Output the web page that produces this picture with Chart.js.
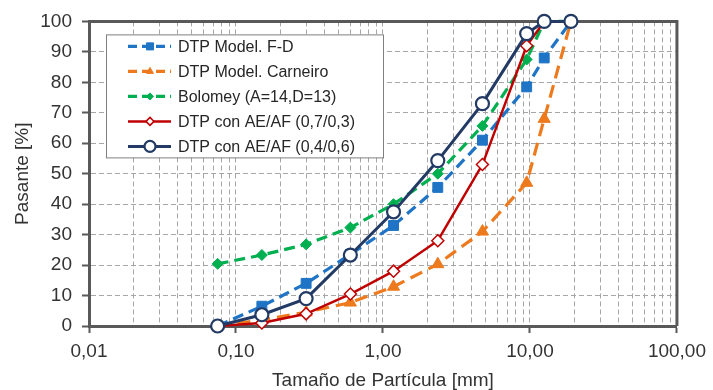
<!DOCTYPE html>
<html>
<head>
<meta charset="utf-8">
<script src="https://cdn.jsdelivr.net/npm/chart.js@4.4.1/dist/chart.umd.min.js"></script>
<style>
  html, body { margin: 0; padding: 0; background: #fff; }
</style>
</head>
<body>
<canvas id="chart" width="713" height="390"></canvas>
<script>
// sieve sizes (mm) and % passing for each curve
const sizes = [0.075, 0.15, 0.3, 0.6, 1.18, 2.36, 4.75, 9.5, 12.5, 19];
const fdValues = [0, 6.5, 14, 23.5, 33, 45.5, 61, 78.5, 88, 100];
const carneiroValues = [0, 2, 4.5, 7.7, 12.9, 20.3, 31, 47, 68, 100];
const bolomeyValues = [20.4, 23.3, 26.8, 32.3, 40, 50, 65.7, 87.5, 100, 100];
const ae07Values = [0, 1, 4, 10.5, 18, 28, 53, 92, 100, 100];
const ae04Values = [0, 3.7, 9, 23.3, 37.5, 54.3, 73, 96, 100, 100];

const seriesNames = [
  'DTP Model. F-D',
  'DTP Model. Carneiro',
  'Bolomey (A=14,D=13)',
  'DTP con AE/AF (0,7/0,3)',
  'DTP con AE/AF (0,4/0,6)'
];

const xTickValues = [0.01, 0.1, 1, 10, 100];
const xTickLabels = ['0,01', '0,10', '1,00', '10,00', '100,00'];

// minor grid positions for the log axis (1..9 per decade)
const gridValues = [];
for (let k = 0; k < xTickValues.length - 1; k++) {
  for (let m = 1; m <= 9; m++) gridValues.push(Number((m * xTickValues[k]).toPrecision(6)));
}
gridValues.push(xTickValues[xTickValues.length - 1]);

const isDecade = v => xTickValues.findIndex(t => Math.abs(t - v) < t * 1e-6);

const toPoints = vals => sizes.map((s, i) => ({ x: s, y: vals[i] }));

Chart.defaults.font.family = '"Liberation Sans", Arial, sans-serif';
Chart.defaults.color = '#333333';

const frame = {
  id: 'frame',
  beforeDatasetsDraw(chart) {
    const { ctx, chartArea: a } = chart;
    ctx.save();
    ctx.strokeStyle = '#595959';
    ctx.lineWidth = 3;
    ctx.beginPath();
    ctx.moveTo(a.left, a.top);
    ctx.lineTo(a.right, a.top);
    ctx.lineTo(a.right, a.bottom);
    ctx.stroke();
    ctx.restore();
  }
};

const legendBox = {
  id: 'legendBox',
  afterDraw(chart) {
    const { ctx, chartArea: a } = chart;
    const left = a.left + 17, top = a.top + 13;
    ctx.save();
    ctx.fillStyle = '#fff';
    ctx.fillRect(left, top, 277, 123);
    ctx.strokeStyle = '#7f7f7f';
    ctx.lineWidth = 1;
    ctx.strokeRect(left + 0.5, top + 0.5, 277, 123);
    chart.data.datasets.forEach((ds, i) => {
      const y = top + 12 + i * 25;
      ctx.strokeStyle = ds.borderColor;
      ctx.lineWidth = ds.borderWidth;
      ctx.setLineDash(ds.borderDash ? [9, 5] : []);
      ctx.beginPath();
      ctx.moveTo(left + 22, y);
      ctx.lineTo(left + 65, y);
      ctx.stroke();
      ctx.setLineDash([]);
      ctx.fillStyle = ds.pointBackgroundColor;
      ctx.strokeStyle = ds.pointBorderColor;
      ctx.lineWidth = ds.pointBorderWidth;
      Chart.helpers.drawPoint(ctx, {
        pointStyle: ds.pointStyle, rotation: 0,
        radius: ds.legendRadius, borderWidth: ds.pointBorderWidth
      }, left + 44, y);
      ctx.fillStyle = '#262626';
      ctx.font = '16px "Liberation Sans", Arial, sans-serif';
      ctx.textBaseline = 'middle';
      ctx.fillText(seriesNames[i], left + 72, y + 1);
    });
    ctx.restore();
  }
};

new Chart(document.getElementById('chart'), {
  type: 'line',
  data: {
    datasets: [
      {
        label: seriesNames[0], data: toPoints(fdValues), order: 3,
        borderColor: '#1f74c5', borderWidth: 3.2, borderDash: [11, 6],
        pointStyle: 'rect', pointRadius: 7, legendRadius: 5,
        pointBackgroundColor: '#1f74c5', pointBorderColor: '#1f74c5', pointBorderWidth: 1
      },
      {
        label: seriesNames[1], data: toPoints(carneiroValues), order: 4,
        borderColor: '#ee7a1e', borderWidth: 3.2, borderDash: [13, 7],
        pointStyle: 'triangle', pointRadius: 7, legendRadius: 4,
        pointBackgroundColor: '#ee7a1e', pointBorderColor: '#ee7a1e', pointBorderWidth: 1
      },
      {
        label: seriesNames[2], data: toPoints(bolomeyValues), order: 2,
        borderColor: '#00b050', borderWidth: 3.2, borderDash: [11, 6],
        pointStyle: 'rectRot', pointRadius: 5.5, legendRadius: 3.5,
        pointBackgroundColor: '#00b050', pointBorderColor: '#00b050', pointBorderWidth: 1
      },
      {
        label: seriesNames[3], data: toPoints(ae07Values), order: 1,
        borderColor: '#c00000', borderWidth: 2.5,
        pointStyle: 'rectRot', pointRadius: 6, legendRadius: 4,
        pointBackgroundColor: '#ffffff', pointBorderColor: '#c00000', pointBorderWidth: 1.5
      },
      {
        label: seriesNames[4], data: toPoints(ae04Values), order: 0,
        borderColor: '#223a64', borderWidth: 3,
        pointStyle: 'circle', pointRadius: 6.5, legendRadius: 5.5,
        pointBackgroundColor: '#ffffff', pointBorderColor: '#223a64', pointBorderWidth: 2.2
      }
    ]
  },
  options: {
    responsive: false,
    animation: false,
    clip: false,
    layout: { padding: { top: 20, right: 34, left: 0, bottom: 0 } },
    elements: { line: { tension: 0 } },
    plugins: { legend: { display: false }, tooltip: { enabled: false } },
    scales: {
      x: {
        type: 'logarithmic',
        min: 0.01,
        max: 100,
        afterBuildTicks: s => { s.ticks = gridValues.map(v => ({ value: v })); },
        afterFit: s => { s.height = 64; },
        ticks: {
          autoSkip: false, maxRotation: 0, padding: 7,
          font: { size: 19 },
          callback: v => { const k = isDecade(v); return k >= 0 ? xTickLabels[k] : ''; }
        },
        grid: {
          color: '#a6a6a6', lineWidth: 1, tickLength: 7, tickWidth: 2,
          tickColor: c => isDecade(c.tick.value) >= 0 ? '#595959' : 'rgba(0,0,0,0)'
        },
        border: { color: '#595959', width: 3, dash: [5, 3] },
        title: { display: true, text: 'Tamaño de Partícula [mm]', font: { size: 19 }, padding: { top: 0, bottom: -2 } }
      },
      y: {
        min: 0,
        max: 100,
        afterFit: s => { s.width = 89; },
        ticks: { stepSize: 10, padding: 10, font: { size: 19 } },
        grid: { color: '#a6a6a6', lineWidth: 1, tickLength: 7, tickWidth: 2, tickColor: '#595959' },
        border: { color: '#595959', width: 3, dash: [5, 3] },
        title: { display: true, text: 'Pasante [%]', font: { size: 19 }, padding: { top: 11, bottom: 0 } }
      }
    }
  },
  plugins: [frame, legendBox]
});
</script>
</body>
</html>
